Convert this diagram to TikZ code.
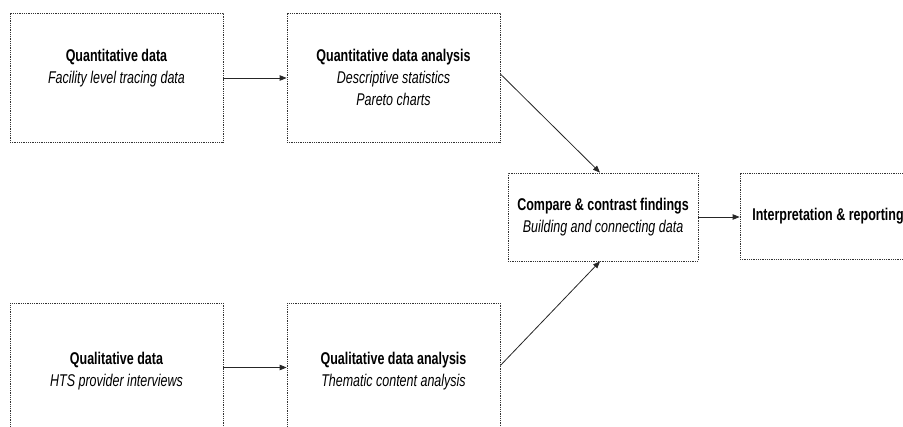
\documentclass[tikz,border=0pt]{standalone}
\usepackage{fontspec}
\setmainfont[FakeStretch=0.735]{Liberation Sans}
\usetikzlibrary{arrows.meta}

\tikzset{
  stage/.style={draw=black!80, line width=0.8pt, dash pattern=on 1pt off 0.8pt,
    align=center, inner sep=0pt, font=\fontsize{17}{22}\selectfont},
  flow/.style={-{Triangle[length=7pt,width=5.5pt]}, line width=0.8pt, black!85}
}

\begin{document}
\begin{tikzpicture}[x=1pt, y=-1pt]
  \useasboundingbox (0,0) rectangle (903,427);
  \clip (0,0) rectangle (903,427);

  % Datos
  \node[stage, minimum width=213pt, minimum height=129pt] (qn) at (116.5,77.5)
    {\textbf{Quantitative data}\\ \textit{Facility level tracing data}\\ \mbox{}};
  \node[stage, minimum width=213pt, minimum height=137pt] (ql) at (116.5,371.5)
    {\textbf{Qualitative data}\\ \textit{HTS provider interviews}};

  % Analisis
  \node[stage, minimum width=213pt, minimum height=129pt] (qnana) at (393.5,77.5)
    {\textbf{Quantitative data analysis}\\ \textit{Descriptive statistics}\\ \textit{Pareto charts}};
  \node[stage, minimum width=213pt, minimum height=137pt] (qlana) at (393.5,371.5)
    {\textbf{Qualitative data analysis}\\ \textit{Thematic content analysis}};

  % Integracion
  \node[stage, minimum width=190pt, minimum height=88pt] (cmp) at (603,217)
    {\textbf{Compare \& contrast findings}\\ \textit{Building and connecting data}};
  \node[stage, minimum width=176pt, minimum height=86pt] (itp) at (828,216)
    {\textbf{Interpretation \& reporting}};

  % Flechas
  \draw[flow] ([yshift=-0.5pt]qn.east) -- ([yshift=-0.5pt]qnana.west);
  \draw[flow] ([yshift=4pt]ql.east) -- ([yshift=4pt]qlana.west);
  \draw[flow] ([yshift=3.5pt]qnana.east) -- ([xshift=-3pt]cmp.north);
  \draw[flow] ([yshift=6pt]qlana.east) -- ([xshift=-3pt]cmp.south);
  \draw[flow] (cmp.east) -- (cmp.east -| itp.west);
\end{tikzpicture}
\end{document}
